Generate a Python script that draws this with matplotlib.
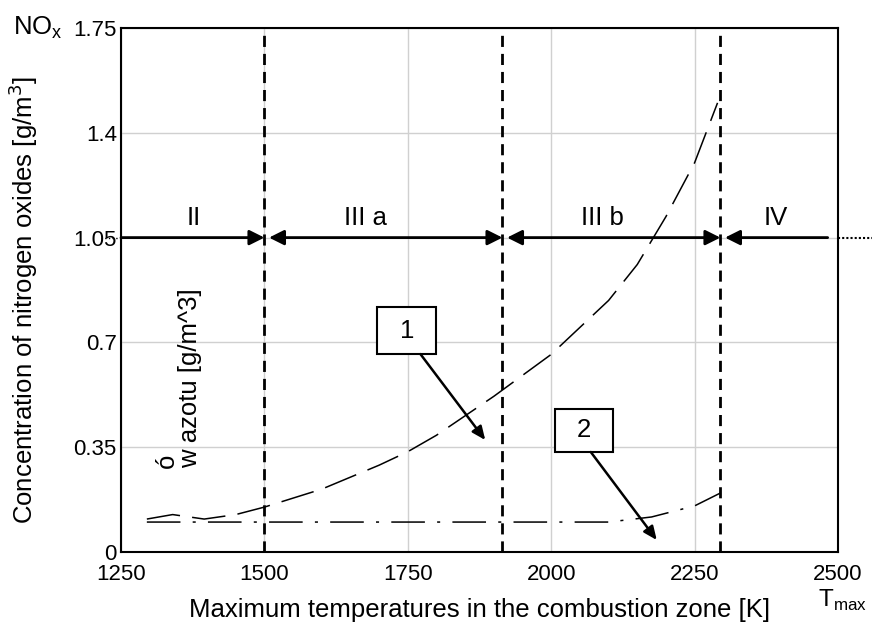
import numpy as np
import matplotlib.pyplot as plt
from matplotlib.patches import Rectangle

plt.rcParams['font.family'] = ['Liberation Sans', 'DejaVu Sans']

# curve 1: NOx concentration (dashed)
t_curve1 = [1295, 1340, 1395, 1450, 1500, 1600, 1700, 1750, 1800, 1900, 2000, 2100, 2150, 2200, 2250, 2290]
nox_curve1 = [0.11, 0.125, 0.11, 0.125, 0.15, 0.21, 0.29, 0.335, 0.39, 0.52, 0.66, 0.84, 0.96, 1.12, 1.30, 1.50]
# curve 2: dash-dot
t_curve2 = [1295, 1500, 1800, 2100, 2175, 2250, 2295]
nox_curve2 = [0.10, 0.10, 0.10, 0.10, 0.117, 0.154, 0.197]

# region boundaries and labels
boundaries = [1500, 1915, 2295]
region_names = ['II', 'III a', 'III b', 'IV']
region_x = [1376, 1676, 2090, 2392]
arrow_y = 1.05
arrow_end = 2482

xticks = [1250, 1500, 1750, 2000, 2250, 2500]
yticks = [0, 0.35, 0.7, 1.05, 1.4, 1.75]
ytick_labels = ['0', '0.35', '0.7', '1.05', '1.4', '1.75']

fs_tick = 16
fs = 18.5

fig = plt.figure(figsize=(8.72, 6.25), dpi=100)
ax = fig.add_axes([0.1388, 0.1168, 0.961 - 0.1388, 0.9552 - 0.1168])

ax.set_xlim(1250, 2500)
ax.set_ylim(0, 1.75)
ax.set_xticks(xticks)
ax.set_yticks(yticks)
ax.set_yticklabels(ytick_labels)
ax.tick_params(length=0, labelsize=fs_tick)
ax.tick_params(axis='x', pad=9)
ax.tick_params(axis='y', pad=3)
ax.grid(True, color='#d0d0d0', lw=1)
ax.set_axisbelow(True)
for s in ax.spines.values():
    s.set_linewidth(1.5)

ax.set_xlabel('Maximum temperatures in the combustion zone [K]', fontsize=fs, labelpad=9)
ax.set_ylabel('Concentration of nitrogen oxides [g/m$^3$]', fontsize=fs)
ax.yaxis.set_label_coords(-0.113, 0.48)

# curves
ax.plot(t_curve1, nox_curve1, color='k', lw=1.1, dashes=(22, 8))
ax.plot(t_curve2, nox_curve2, color='k', lw=1.1, dashes=(22, 8, 2, 8))

# vertical boundaries
for b in boundaries:
    ax.axvline(b, color='k', lw=2, dashes=(4, 2.5))

# region arrows
head = 'head_length=0.9,head_width=0.45'
edges = [1250] + boundaries + [arrow_end]
styles = ['-|>', '<|-|>', '<|-|>', '<|-']
for i in range(4):
    x0 = edges[i]
    x1 = edges[i + 1]
    if i > 0:
        x0 += 8
    ax.annotate('', xy=(x1, arrow_y), xytext=(x0, arrow_y),
                arrowprops=dict(arrowstyle=styles[i] + ',' + head, color='k', lw=2,
                                shrinkA=0, shrinkB=0))
    ax.text(region_x[i], 1.115, region_names[i], fontsize=fs, ha='center', va='center')

# dotted continuation of the 1.05 line outside axes
ax.plot([1215, 1250], [arrow_y, arrow_y], color='k', lw=1, ls=':', clip_on=False)
ax.plot([2500, 2560], [arrow_y, arrow_y], color='k', lw=1.5, ls=(0, (1, 1)), clip_on=False)

# numbered callouts
callouts = [
    ('1', (1697, 0.661), (1800, 0.818), (1772, 0.661), (1885, 0.374)),
    ('2', (2006, 0.334), (2107, 0.478), (2069, 0.334), (2184, 0.04)),
]
for name, (bx0, by0), (bx1, by1), start, tip in callouts:
    ax.add_patch(Rectangle((bx0, by0), bx1 - bx0, by1 - by0, fc='white', ec='k', lw=1.5, zorder=4))
    ax.text((bx0 + bx1) / 2, (by0 + by1) / 2, name, fontsize=fs, ha='center', va='center', zorder=5)
    ax.annotate('', xy=tip, xytext=start,
                arrowprops=dict(arrowstyle='-|>,head_length=0.8,head_width=0.35', color='k', lw=1.8,
                                shrinkA=0, shrinkB=0), zorder=5)

# rotated leftover label
ax.text(1370, 0.28, 'w azotu [g/m^3]', rotation=90, fontsize=fs, ha='center', va='bottom')
ax.text(1330, 0.28, 'ó', rotation=90, fontsize=fs, ha='center', va='bottom')

# axis corner labels
fig.text(13 / 872, 1 - 28 / 625, 'NO$_\\mathregular{x}$', fontsize=fs, ha='left', va='center')
fig.text(818 / 872, 1 - 600 / 625, 'T$_\\mathregular{max}$', fontsize=17.5, ha='left', va='center')

fig.savefig('out.png', dpi=100)
